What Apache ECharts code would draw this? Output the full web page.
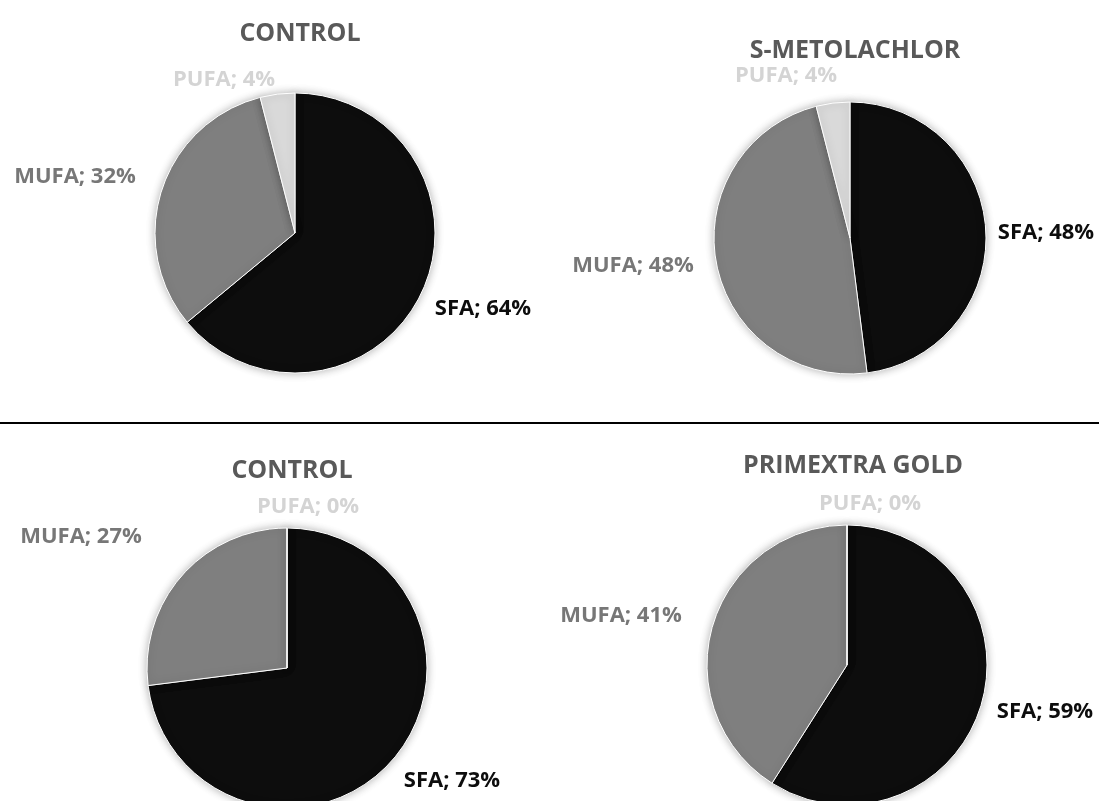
<!DOCTYPE html>
<html>
<head>
<meta charset="utf-8">
<title>Fatty acid composition</title>
<script src="https://cdn.jsdelivr.net/npm/echarts@6/dist/echarts.min.js"></script>
<style>
  html, body { margin: 0; padding: 0; background: #ffffff; }
  #chart { width: 1099px; height: 801px; }
</style>
</head>
<body>
<div id="chart"></div>
<script>
// Fatty acid classes, in slice order (clockwise from 12 o'clock)
const categories = ['SFA', 'MUFA', 'PUFA'];

// Panel titles
const titles = ['CONTROL', 'S-METOLACHLOR', 'CONTROL', 'PRIMEXTRA GOLD'];

// Share of each class (%) per panel
const controlTop   = [64, 32, 4];
const sMetolachlor = [48, 48, 4];
const controlBot   = [73, 27, 0];
const primextra    = [59, 41, 0];
const panelValues = [controlTop, sMetolachlor, controlBot, primextra];

// Slice / label colours per class
const sliceColors = ['#0d0d0d', '#7f7f7f', '#d9d9d9'];
const labelColors = ['#0d0d0d', '#777777', '#d4d4d4'];

// Panel geometry: pie centre, radius, title position, and label anchor per class
const panels = [
  { center: [295, 233], r: 140, title: [295, 29],
    labels: [[483, 309], [75, 177], [224, 80]] },
  { center: [850, 238], r: 136, title: [850, 46],
    labels: [[1046, 233], [633, 266], [786, 76]] },
  { center: [287, 668], r: 140, title: [287, 466],
    labels: [[452, 781], [81, 537], [308, 507]] },
  { center: [847, 665], r: 140, title: [848, 461],
    labels: [[1045, 712], [621, 616], [870, 504]] }
];

const FONT = '"Open Sans", "DejaVu Sans", sans-serif';

const chart = echarts.init(document.getElementById('chart'), null, { renderer: 'canvas' });

const series = panelValues.map((vals, p) => {
  const g = panels[p];
  return {
    type: 'pie',
    name: titles[p] + ' ' + p,
    center: g.center,
    radius: [0, g.r],
    startAngle: 90,
    clockwise: true,
    silent: true,
    animation: false,
    avoidLabelOverlap: false,
    stillShowZeroSum: true,
    itemStyle: {
      borderColor: '#ffffff',
      borderWidth: 1,
      shadowBlur: 8,
      shadowColor: 'rgba(0,0,0,0.3)'
    },
    label: {
      show: true,
      position: 'outside',
      formatter: (prm) => prm.name + '; ' + prm.value + '%',
      fontFamily: FONT,
      fontWeight: 'bold',
      fontSize: 22
    },
    labelLine: { show: false },
    labelLayout: (prm) => {
      const pos = g.labels[prm.dataIndex];
      return { x: pos[0], y: pos[1], align: 'center', verticalAlign: 'middle', hideOverlap: false };
    },
    data: categories.map((c, i) => ({
      name: c,
      value: vals[i],
      itemStyle: { color: sliceColors[i] },
      label: { color: labelColors[i] }
    }))
  };
});

const titleComps = titles.map((t, p) => ({
  text: t,
  left: panels[p].title[0],
  top: panels[p].title[1],
  textAlign: 'center',
  textVerticalAlign: 'middle',
  textStyle: {
    fontFamily: FONT,
    fontWeight: 'bold',
    fontSize: 25,
    color: '#595959'
  }
}));

chart.setOption({
  backgroundColor: '#ffffff',
  animation: false,
  title: titleComps,
  series: series,
  graphic: [{
    type: 'line',
    shape: { x1: 0, y1: 423, x2: 1099, y2: 423 },
    style: { stroke: '#000000', lineWidth: 2 }
  }]
});
</script>
</body>
</html>
